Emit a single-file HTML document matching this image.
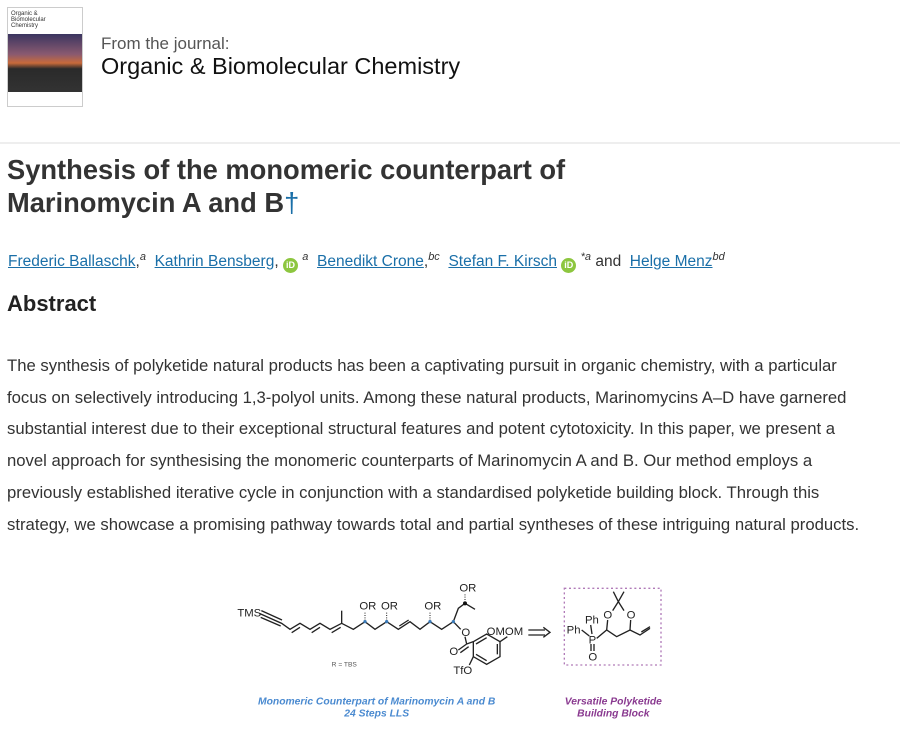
<!DOCTYPE html>
<html><head><meta charset="utf-8"><style>
body{margin:0;width:900px;height:747px;background:#fff;font-family:"Liberation Sans",sans-serif;color:#222;position:relative;overflow:hidden}
.a{position:absolute;white-space:nowrap}
a{color:#1a6fa8;text-decoration:underline}
.id{display:inline-block;width:15px;height:15px;border-radius:50%;background:#8dc63f;color:#fff;font-size:9px;line-height:15px;text-align:center;vertical-align:-2px;font-weight:bold}
sup{font-size:11px;font-style:italic}
</style></head><body>
<div class="a" style="left:7px;top:7px;width:74px;height:98px;border:1px solid #ccc;background:#fff">
 <div style="font-size:6px;line-height:6px;padding:3px;color:#333">Organic &amp;<br>Biomolecular<br>Chemistry</div>
 <div style="position:absolute;left:0;top:26px;width:74px;height:58px;background:linear-gradient(#3a3560,#8a5a70 35%,#c96a3a 50%,#2a2a2a 60%,#333)"></div>
</div>
<div class="a" style="left:101px;top:34px;font-size:17px;color:#555">From the journal:</div>
<div class="a" style="left:101px;top:53px;font-size:23.5px;color:#111">Organic &amp; Biomolecular Chemistry</div>
<div class="a" style="left:0;top:142px;width:900px;height:2px;background:#eee"></div>
<div class="a" style="left:7px;top:153px;font-size:27.3px;font-weight:bold;line-height:33px;color:#333">Synthesis of the monomeric counterpart of<br>Marinomycin A and B<span style="color:#1a6fa8;font-weight:normal">†</span></div>
<div class="a" style="left:8px;top:251px;font-size:15.5px;color:#333"><a>Frederic Ballaschk</a>,<sup>a</sup>&nbsp; <a>Kathrin Bensberg</a>, <span class="id">iD</span> <sup>a</sup>&nbsp; <a>Benedikt Crone</a>,<sup>bc</sup>&nbsp; <a>Stefan F. Kirsch</a> <span class="id">iD</span> <sup>*a</sup> and&nbsp; <a>Helge Menz</a><sup>bd</sup></div>
<div class="a" style="left:7px;top:291px;font-size:22px;font-weight:bold;color:#222">Abstract</div>
<div class="a" style="left:7px;top:350px;font-size:16.7px;line-height:31.7px;color:#333">The synthesis of polyketide natural products has been a captivating pursuit in organic chemistry, with a particular<br>focus on selectively introducing 1,3-polyol units. Among these natural products, Marinomycins A–D have garnered<br>substantial interest due to their exceptional structural features and potent cytotoxicity. In this paper, we present a<br>novel approach for synthesising the monomeric counterparts of Marinomycin A and B. Our method employs a<br>previously established iterative cycle in conjunction with a standardised polyketide building block. Through this<br>strategy, we showcase a promising pathway towards total and partial syntheses of these intriguing natural products.</div>
<svg class="a" style="left:220px;top:570px" width="460" height="160" viewBox="0 0 1380 480" font-family="Liberation Sans,sans-serif">
<g stroke="#222" stroke-width="4" fill="none">
<polyline points="118,130 185,160 210,178 240,160 270,178 300,160 330,178 365,160 400,178 435,155 465,178 500,155 535,178 570,155 600,178 630,155 665,178 700,155 715,115 735,100 765,118"/>
<line x1="122" y1="142" x2="182" y2="168"/><line x1="124" y1="122" x2="186" y2="150"/>
<line x1="215" y1="188" x2="240" y2="172"/><line x1="275" y1="188" x2="300" y2="172"/><line x1="335" y1="188" x2="362" y2="172"/><line x1="538" y1="168" x2="566" y2="150"/>
<line x1="365" y1="160" x2="365" y2="122"/>
<line x1="700" y1="155" x2="722" y2="178"/>
<line x1="735" y1="200" x2="740" y2="222"/>
<line x1="740" y1="222" x2="715" y2="240"/><line x1="746" y1="230" x2="721" y2="248"/>
<polygon points="760,215 800,192 840,215 840,260 800,283 760,260"/>
<line x1="740" y1="222" x2="760" y2="215"/>
<line x1="840" y1="215" x2="862" y2="200"/><line x1="760" y1="260" x2="748" y2="285"/>
<line x1="768" y1="222" x2="800" y2="203"/><line x1="832" y1="222" x2="832" y2="253"/><line x1="768" y1="253" x2="800" y2="272"/>
<line x1="925" y1="180" x2="975" y2="180"/><line x1="925" y1="195" x2="975" y2="195"/><polyline points="970,172 990,187 970,202"/>
<line x1="1113" y1="222" x2="1113" y2="243"/><line x1="1122" y1="222" x2="1122" y2="243"/>
<line x1="1085" y1="180" x2="1108" y2="198"/><line x1="1112" y1="165" x2="1116" y2="192"/>
<polyline points="1130,205 1160,180 1190,200 1230,180 1260,195 1290,175"/>
<line x1="1264" y1="186" x2="1290" y2="170"/>
<line x1="1160" y1="180" x2="1163" y2="150"/><line x1="1230" y1="180" x2="1232" y2="150"/>
<polyline points="1178,122 1195,95 1212,122"/><line x1="1195" y1="95" x2="1180" y2="65"/><line x1="1195" y1="95" x2="1212" y2="65"/>
</g>
<g stroke="#222" stroke-width="3" stroke-dasharray="3,4">
<line x1="435" y1="152" x2="435" y2="125"/><line x1="500" y1="152" x2="500" y2="125"/><line x1="630" y1="152" x2="630" y2="125"/><line x1="735" y1="97" x2="735" y2="70"/>
</g>
<g fill="#3a7ab8"><circle cx="435" cy="155" r="5"/><circle cx="500" cy="155" r="5"/><circle cx="630" cy="155" r="5"/><circle cx="700" cy="155" r="5"/></g>
<circle cx="735" cy="100" r="6" fill="#111"/>
<g font-size="34" fill="#222">
<text x="52" y="140">TMS</text>
<text x="418" y="118">OR</text><text x="483" y="118">OR</text><text x="613" y="118">OR</text><text x="718" y="65">OR</text>
<text x="724" y="198">O</text><text x="688" y="255">O</text><text x="800" y="195">OMOM</text><text x="700" y="312">TfO</text>
<text x="1040" y="190">Ph</text><text x="1095" y="160">Ph</text><text x="1106" y="220">P</text><text x="1105" y="272">O</text>
<text x="1150" y="145">O</text><text x="1220" y="145">O</text>
<text x="335" y="290" font-size="20" fill="#555">R = TBS</text>
</g>
<rect x="1033" y="55" width="290" height="230" fill="none" stroke="#b07ab8" stroke-width="4" stroke-dasharray="6,8"/>
<g font-size="31" font-weight="bold" font-style="italic" text-anchor="middle">
<text x="470" y="403" fill="#4a8ad0">Monomeric Counterpart of Marinomycin A and B</text>
<text x="470" y="440" fill="#4a8ad0">24 Steps LLS</text>
<text x="1180" y="403" fill="#8a3a90">Versatile Polyketide</text>
<text x="1180" y="440" fill="#8a3a90">Building Block</text>
</g>
</svg>
</body></html>
